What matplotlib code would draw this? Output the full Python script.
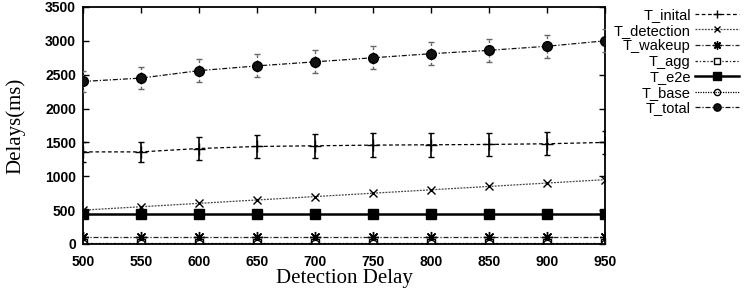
import numpy as np
import matplotlib
matplotlib.use("Agg")
import matplotlib.pyplot as plt

detection_delay = [500, 550, 600, 650, 700, 750, 800, 850, 900, 950]

t_initial = [1360, 1360, 1410, 1440, 1450, 1460, 1465, 1470, 1480, 1500]
t_initial_err = [150, 150, 170, 175, 175, 180, 175, 175, 170, 165]
t_detection = [500, 550, 600, 650, 700, 750, 800, 850, 900, 950]
t_wakeup = [110, 110, 110, 110, 110, 110, 110, 110, 110, 110]
t_agg = [10, 10, 10, 10, 10, 10, 10, 10, 10, 10]
t_e2e = [450, 450, 450, 450, 450, 450, 450, 450, 450, 450]
t_base = [0, 0, 0, 0, 0, 0, 0, 0, 0, 0]
t_total = [2400, 2450, 2560, 2630, 2690, 2750, 2810, 2860, 2920, 3000]
t_total_err = [150, 160, 165, 170, 170, 170, 170, 170, 170, 170]

plt.rcParams['font.family'] = ['Liberation Sans', 'DejaVu Sans']

fig = plt.figure(figsize=(7.47, 2.97), dpi=100)
ax = fig.add_axes([0.111, 0.1785, 0.699, 0.798])

x = np.array(detection_delay)

eb = ax.errorbar(x, t_initial, yerr=t_initial_err, color='black', lw=0.9,
                 ls=(0, (3, 2)), marker='+', ms=8, mew=1.0, capsize=2.5,
                 elinewidth=1.2, capthick=1.2, zorder=3)
eb[0].set_label('T_inital')

l_det, = ax.plot(x, t_detection, color='#444444', lw=0.9, ls=(0, (1.5, 1)),
                 marker='x', ms=6, mew=1.0, mec='black', label='T_detection')
l_wak, = ax.plot(x, t_wakeup, color='#222222', lw=0.9, ls=(0, (4, 1.5, 1, 1.5)),
                 marker=(8, 2, 0), ms=8, mew=1.0, mec='black', label='T_wakeup')
l_agg, = ax.plot(x, t_agg, color='#222222', lw=0.9, ls=(0, (2, 1.5, 1, 1.5)),
                 marker='s', ms=6, mfc='white', mew=1.0, mec='black', label='T_agg')
l_e2e, = ax.plot(x, t_e2e, color='black', lw=1.8, ls='-',
                 marker='s', ms=7, mec='black', label='T_e2e')
l_base, = ax.plot(x, t_base, color='black', lw=0.9, ls=(0, (1, 1)),
                  marker='o', ms=6, mfc='none', mew=1.0, mec='black', label='T_base')

eb2 = ax.errorbar(x, t_total, yerr=t_total_err, color='#111111', lw=0.9,
                  ls=(0, (4, 1.5, 1, 1.5)), marker='o', ms=7, mec='black',
                  ecolor='#666666', capsize=2, elinewidth=1.0, capthick=1.0,
                  zorder=3)
eb2[0].set_label('T_total')
for c in eb2[2]:
    c.set_linestyle((0, (2, 1.5)))

ax.set_xlim(500, 950)
ax.set_ylim(0, 3500)
ax.set_xticks(detection_delay)
ax.set_yticks(np.arange(0, 3501, 500))
ax.tick_params(direction='in', length=4, width=1.0, top=True, right=True,
               labelsize=10)
ax.tick_params(axis='x', pad=8)
ax.tick_params(axis='y', pad=5)
for lab in ax.get_xticklabels() + ax.get_yticklabels():
    lab.set_fontweight('bold')
for s in ax.spines.values():
    s.set_linewidth(1.3)

ax.set_xlabel('Detection Delay', family=['Liberation Serif'], fontsize=15, labelpad=0)
ax.set_ylabel('Delays(ms)', family=['Liberation Serif'], fontsize=15, labelpad=14)

handles = [eb[0], l_det, l_wak, l_agg, l_e2e, l_base, eb2[0]]
leg = fig.legend(handles=handles, labels=[h.get_label() for h in handles],
                 loc='upper right', bbox_to_anchor=(1.0, 1.0), frameon=False,
                 markerfirst=False, fontsize=10.5, labelspacing=0.105,
                 handlelength=3.0, handletextpad=0.3, borderaxespad=0.0,
                 borderpad=0.55, markerscale=0.75)

fig.savefig('out.png', dpi=100)
